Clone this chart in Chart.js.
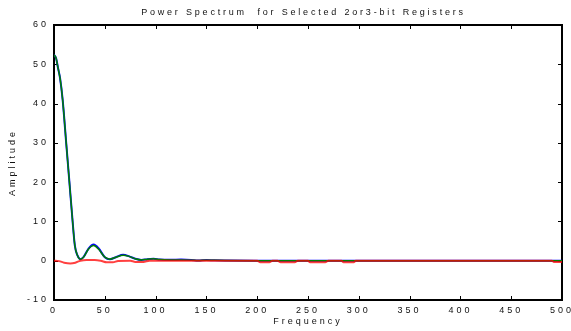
<!DOCTYPE html>
<html>
<head>
<meta charset="utf-8">
<script src="https://cdn.jsdelivr.net/npm/chart.js@4"></script>
<style>
html,body{margin:0;padding:0;background:#fff;}
#wrap{width:571px;height:331px;}
</style>
</head>
<body>
<div id="wrap"><canvas id="c" width="571" height="331"></canvas></div>
<script>
const chartTitle = "Power Spectrum  for Selected 2or3-bit Registers";
const xTitle = "Frequency";
const yTitle = "Amplitude";
const xTicks = [0,50,100,150,200,250,300,350,400,450,500];
const yTicks = [-10,0,10,20,30,40,50,60];

const freqBG = [0,2,4,6,8.5,12,15,18,20.5,23,26,29,34,39,44,50,55,61,68,74,80,86,92,98,104,115,125,135,142,150,158,170,200,300,400,500];
const greenVals = [52.4,51.6,49,46.4,41,30,20.5,11,3.9,1.4,0.4,0.9,3.0,3.9,2.9,0.9,0.4,0.9,1.4,1.1,0.5,0.2,0.4,0.5,0.3,0.2,0.2,0.15,0.05,0.15,0.1,0.05,0,0,0,0];
const blueVals  = [52.4,51.6,49,46.4,41,30,20.5,11,3.9,1.4,0.4,0.9,3.1,4.1,3.1,0.9,0.4,0.9,1.5,1.1,0.5,0.2,0.4,0.5,0.3,0.25,0.28,0.2,0.05,0.2,0.1,0.05,0,0,0,0];

const freqRed = [0,5,10,16,21,26,32,40,46,52,58,63,75,80,88,94,200,203,212,215,220,223,237,240,250,252,267,270,283,285,295,297,490,492,500];
const redVals = [0,-0.1,-0.5,-0.7,-0.5,0,0.2,0.2,0,-0.4,-0.4,-0.05,0,-0.3,-0.3,0,0,-0.4,-0.4,0,0,-0.4,-0.4,0,0,-0.4,-0.4,0,0,-0.4,-0.4,0,0,-0.3,-0.3];

const pts = (xs, ys) => xs.map((x, i) => ({x: x, y: ys[i]}));
const FONT = '"Liberation Sans", Arial, sans-serif';
const LS = '3px';
const TITLE_LS = '2.8px';

const spacingPlugin = {
  id: 'spacing',
  beforeLayout(chart) { chart.ctx.letterSpacing = LS; },
  beforeDraw(chart) { chart.ctx.letterSpacing = LS; },
  afterInit(chart) {
    const tb = chart.titleBlock;
    if (tb && !tb._wrapped) {
      const orig = tb.draw.bind(tb);
      tb.draw = function(area) {
        const ctx = chart.ctx;
        const ca = chart.chartArea;
        ctx.save();
        ctx.letterSpacing = TITLE_LS;
        ctx.translate((ca.left + ca.right) / 2 - chart.width / 2, 0);
        orig(area);
        ctx.restore();
      };
      tb._wrapped = true;
    }
  }
};

const framePlugin = {
  id: 'frame',
  beforeDatasetsDraw(chart) {
    const {ctx, chartArea: a, scales: {x, y}} = chart;
    ctx.save();
    ctx.letterSpacing = '0px';
    ctx.strokeStyle = '#000';
    ctx.lineWidth = 1;
    ctx.beginPath();
    xTicks.forEach(v => {
      const px = Math.round(x.getPixelForValue(v)) + 0.5;
      ctx.moveTo(px, a.bottom); ctx.lineTo(px, a.bottom - 4);
      ctx.moveTo(px, a.top); ctx.lineTo(px, a.top + 4);
    });
    yTicks.forEach(v => {
      const py = Math.round(y.getPixelForValue(v)) + 0.5;
      ctx.moveTo(a.left, py); ctx.lineTo(a.left + 4, py);
      ctx.moveTo(a.right, py); ctx.lineTo(a.right - 4, py);
    });
    ctx.stroke();
    ctx.lineWidth = 2;
    ctx.strokeRect(a.left, a.top, a.right - a.left, a.bottom - a.top);
    ctx.restore();
  }
};

new Chart(document.getElementById('c'), {
  type: 'line',
  data: {
    datasets: [
      {label: 'red', data: pts(freqRed, redVals), borderColor: 'rgba(255,0,0,0.75)', borderWidth: 2, pointRadius: 0, cubicInterpolationMode: 'monotone', order: 0},
      {label: 'green', data: pts(freqBG, greenVals), borderColor: '#008000', borderWidth: 1.5, pointRadius: 0, cubicInterpolationMode: 'monotone', order: 1},
      {label: 'blue', data: pts(freqBG, blueVals), borderColor: '#0000ff', borderWidth: 2, pointRadius: 0, cubicInterpolationMode: 'monotone', order: 2}
    ]
  },
  options: {
    responsive: false,
    animation: false,
    devicePixelRatio: 1,
    layout: {padding: {left: 0, right: 9, top: 0, bottom: 0}},
    plugins: {
      legend: {display: false},
      tooltip: {enabled: false},
      title: {
        display: true,
        text: chartTitle,
        color: '#111',
        font: {family: FONT, size: 9, weight: 'normal'},
        padding: {top: 7, bottom: 7.2}
      }
    },
    scales: {
      x: {
        type: 'linear',
        min: 0, max: 500,
        grid: {display: false, drawTicks: false},
        border: {display: false},
        ticks: {stepSize: 50, padding: 5, color: '#111', font: {family: FONT, size: 9}, maxRotation: 0, autoSkip: false},
        title: {display: true, text: xTitle, color: '#111', font: {family: FONT, size: 9}, padding: {top: 0, bottom: 3.6}},
        afterFit(s) { s.height = 31; s.paddingRight = 9; s.paddingLeft = 0; }
      },
      y: {
        type: 'linear',
        min: -10, max: 60,
        grid: {display: false, drawTicks: false},
        border: {display: false},
        ticks: {stepSize: 10, padding: 5, color: '#111', font: {family: FONT, size: 9}},
        title: {display: true, text: yTitle, color: '#111', font: {family: FONT, size: 9}, padding: {top: 7.5, bottom: 0}},
        afterFit(s) { s.width = 54; }
      }
    }
  },
  plugins: [spacingPlugin, framePlugin]
});
</script>
</body>
</html>
